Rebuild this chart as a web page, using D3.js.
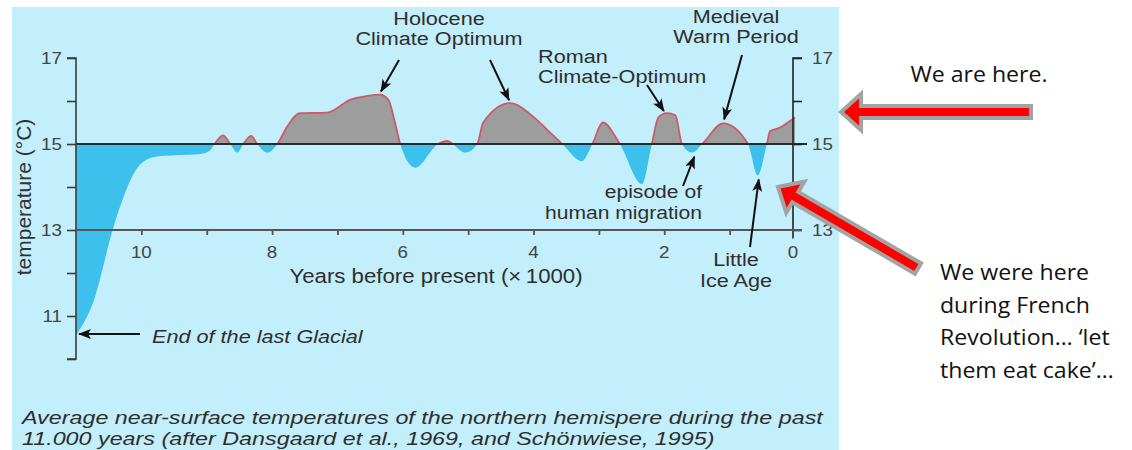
<!DOCTYPE html>
<html>
<head>
<meta charset="utf-8">
<script src="https://cdn.jsdelivr.net/npm/d3@7"></script>
<style>
  html, body { margin: 0; padding: 0; background: #fff; }
  svg { display: block; }
</style>
</head>
<body>
<script>
// temperature reconstruction
// years before present (x1000) and temperature in degC
const kyrBP = [11.0, 10.73, 10.43, 10.29, 10.06, 9.9, 9.71, 9.1, 8.95, 8.88,
  8.75, 8.64, 8.53, 8.44, 8.32, 8.23, 8.07, 7.92, 7.77, 7.57,
  7.16, 6.8, 6.54, 6.35, 6.22, 6.12, 6.04, 5.81, 5.46, 5.32,
  5.24, 5.05, 4.86, 4.77, 4.36, 4.0, 3.79, 3.56, 3.26, 3.1,
  2.94, 2.68, 2.34, 2.19, 2.09, 1.96, 1.83, 1.73, 1.57, 1.42,
  1.1, 0.72, 0.57, 0.43, 0.38, 0.23, 0.11, 0.0]
const tempC = [10.55, 11.35, 13.05, 13.7, 14.45, 14.65, 14.72, 14.77, 14.85, 15.0,
  15.2, 15.0, 14.8, 15.0, 15.19, 15.0, 14.8, 15.0, 15.4, 15.72,
  15.73, 16.03, 16.12, 16.15, 16.03, 15.5, 15.0, 14.45, 15.0, 15.07,
  15.0, 14.8, 15.0, 15.5, 15.95, 15.63, 15.33, 15.0, 14.6, 15.0,
  15.5, 15.0, 14.07, 15.0, 15.62, 15.72, 15.67, 15.0, 14.8, 15.0,
  15.48, 15.0, 14.27, 15.0, 15.3, 15.38, 15.5, 15.62]

const baseTemp = 15
const leftTicks = [17, 15, 13, 11]
const leftMinor = [16, 14, 12, 10]
const rightTicks = [17, 15, 13]
const rightMinor = [16, 14]
const yearTicks = [10, 8, 6, 4, 2, 0]
const yearMinor = [9, 7, 5, 3, 1]

const W = 1132, H = 450
const sx = 1.14 // the scanned figure is a little wider than tall

const svg = d3.select('body').append('svg').attr('width', W).attr('height', H)

// light blue panel of the original figure
svg.append('rect').attr('x', 12).attr('y', 7).attr('width', 827).attr('height', H - 7).attr('fill', '#c3eefb')

const x = d3.scaleLinear().domain([11, 0]).range([76, 795])
const y = d3.scaleLinear().domain([10, 17]).range([359, 58])
const y0 = y(baseTemp)

const pts = kyrBP.map((k, i) => [k, tempC[i]])

const area = d3.area()
  .x(d => x(d[0]))
  .y0(y0)
  .y1(d => y(d[1]))
  .curve(d3.curveMonotoneX)
const line = d3.line()
  .x(d => x(d[0]))
  .y(d => y(d[1]))
  .curve(d3.curveMonotoneX)

const defs = svg.append('defs')
defs.append('clipPath').attr('id', 'above')
  .append('rect').attr('x', 0).attr('y', 0).attr('width', W).attr('height', y0)
defs.append('clipPath').attr('id', 'below')
  .append('rect').attr('x', 0).attr('y', y0).attr('width', W).attr('height', H)
defs.append('marker')
  .attr('id', 'head')
  .attr('markerUnits', 'userSpaceOnUse')
  .attr('markerWidth', 14).attr('markerHeight', 12)
  .attr('refX', 12).attr('refY', 5)
  .attr('orient', 'auto')
  .append('path').attr('d', 'M0,0L13,5L0,10L3,5z').attr('fill', '#111')

// warm (grey) and cold (blue) parts
svg.append('path').datum(pts).attr('d', area)
  .attr('clip-path', 'url(#below)').attr('fill', '#3dc0eb')
svg.append('path').datum(pts).attr('d', area)
  .attr('clip-path', 'url(#above)').attr('fill', '#9d9d9d')
svg.append('path').datum(pts).attr('d', line)
  .attr('clip-path', 'url(#above)').attr('fill', 'none')
  .attr('stroke', '#cf5a66').attr('stroke-width', 1.8)

// 15 degC reference line
svg.append('line').attr('x1', 76).attr('x2', 807).attr('y1', y0).attr('y2', y0)
  .attr('stroke', '#1f2d33').attr('stroke-width', 2)

const axisCol = '#3a3a3a'
const chartFont = '"Liberation Sans", Arial, sans-serif'

// text helper, stretched horizontally like the scan
const label = (g, px, py, s, size, anchor = 'middle', italic = false, col = '#2e2e2e', fam = chartFont, k = sx) =>
  g.append('text')
    .attr('transform', `translate(${px},${py}) scale(${k},1)`)
    .attr('text-anchor', anchor)
    .style('font-family', fam)
    .style('font-size', size + 'px')
    .style('font-style', italic ? 'italic' : 'normal')
    .attr('fill', col)
    .text(s)

// left axis
const yAxisL = d3.axisLeft(y).tickValues(leftTicks.concat(leftMinor)).tickSize(9).tickFormat('')
const gL = svg.append('g').attr('transform', 'translate(76,0)').call(yAxisL)
gL.select('.domain').attr('d', `M-9,${y(17)}H0V${y(10)}H-9`)
gL.selectAll('path, line').attr('stroke', axisCol).attr('stroke-width', 1.6)
leftTicks.forEach(t => label(svg, 62, y(t) + 6, t, 16.5, 'end', false, '#444'))

// right axis
const yAxisR = d3.axisRight(y).tickValues(rightTicks.concat(rightMinor)).tickSize(9).tickFormat('')
const gR = svg.append('g').attr('transform', `translate(${x(0) - 2},0)`).call(yAxisR)
gR.select('.domain').attr('d', `M9,${y(17)}H0V${y(12.8)}`)
gR.selectAll('path, line').attr('stroke', '#222').attr('stroke-width', 1.6)
rightTicks.forEach(t => label(svg, 812, y(t) + 6, t, 16.5, 'start', false, '#444'))

// bottom axis at 13 degC
const xAxis = d3.axisBottom(x).tickValues(yearTicks.concat(yearMinor).filter(v => v > 0)).tickSize(5).tickFormat('')
const gX = svg.append('g').attr('transform', `translate(0,${y(13)})`).call(xAxis)
gX.select('.domain').attr('d', `M${x(11)},0H802`)
gX.selectAll('path, line').attr('stroke', '#555').attr('stroke-width', 1.8)
yearTicks.forEach(t => label(svg, x(t) - (t === 0 ? 2 : 0), 258, t, 16.5, 'middle', false, '#444'))

label(svg, 436, 283, 'Years before present (\u00d7\u20091000)', 19.5)
svg.append('text')
  .attr('transform', 'translate(31,197) rotate(-90)')
  .attr('text-anchor', 'middle')
  .style('font-family', chartFont).style('font-size', '21px')
  .attr('fill', '#333')
  .text('temperature (\u00b0C)')

// annotations
label(svg, 439, 25, 'Holocene', 19)
label(svg, 439, 45, 'Climate Optimum', 19)
label(svg, 538, 63, 'Roman', 19, 'start')
label(svg, 538, 83, 'Climate-Optimum', 19, 'start')
label(svg, 736, 23, 'Medieval', 19)
label(svg, 736, 43, 'Warm Period', 19)
label(svg, 702, 198, 'episode of', 18.5, 'end')
label(svg, 702, 219, 'human migration', 18.5, 'end')
label(svg, 736, 266, 'Little', 19)
label(svg, 736, 287, 'Ice Age', 19)
label(svg, 152, 343, 'End of the last Glacial', 19, 'start', true)
label(svg, 22, 424, 'Average near-surface temperatures of the northern hemispere during the past', 18.5, 'start', true, '#2e2e2e', chartFont, 1.26)
label(svg, 22, 445, '11.000 years (after Dansgaard et al., 1969, and Sch\u00f6nwiese, 1995)', 18.5, 'start', true, '#2e2e2e', chartFont, 1.26)

const pointer = (x1, y1, x2, y2) =>
  svg.append('line')
    .attr('x1', x1).attr('y1', y1).attr('x2', x2).attr('y2', y2)
    .attr('stroke', '#111').attr('stroke-width', 2)
    .attr('marker-end', 'url(#head)')

pointer(399, 60, x(6.35) + 1, y(16.15) - 3)
pointer(490, 60, x(4.36) - 1, y(15.95) - 3)
pointer(647, 85, x(1.96) - 3, y(15.72) - 2)
pointer(742, 55, x(1.1) + 1, y(15.48) - 4)
pointer(683, 186, x(1.57) + 2, y(14.8) + 4)
pointer(750, 247, x(0.57) + 1, y(14.27) + 4)
pointer(140, 334, x(11) + 3, 334)

// red presenter arrows on the white side
const bigArrow = len => `M0,0L20,-18L20,-6L${len},-6L${len},6L20,6L20,18Z`
svg.append('path').attr('d', bigArrow(190))
  .attr('transform', 'translate(841,112)')
  .attr('fill', '#ff0000').attr('stroke', '#a3a3a3').attr('stroke-width', 4).attr('stroke-linejoin', 'miter')
svg.append('path').attr('d', bigArrow(162))
  .attr('transform', 'translate(778,187) rotate(30.2)')
  .attr('fill', '#ff0000').attr('stroke', '#a3a3a3').attr('stroke-width', 4).attr('stroke-linejoin', 'miter')

const noteFont = '"Open Sans", "Noto Sans", sans-serif'
label(svg, 979, 82, 'We are here.', 21, 'middle', false, '#111', noteFont, 1.1)
const notes = ['We were here', 'during French', 'Revolution\u2026 \u2018let', 'them eat cake\u2019\u2026']
notes.forEach((s, i) => label(svg, 940, 280 + i * 32.7, s, 21, 'start', false, '#111', noteFont, 1.1))
</script>
</body>
</html>
